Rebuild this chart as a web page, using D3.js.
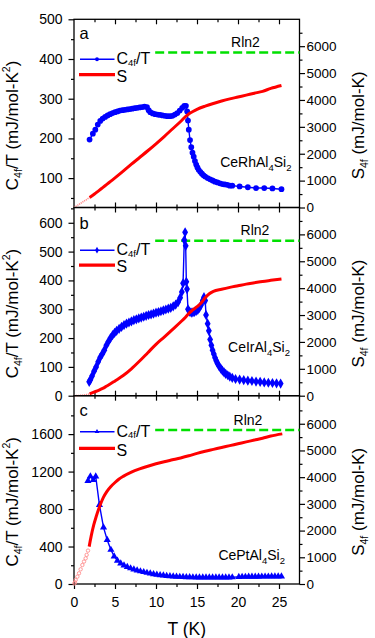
<!DOCTYPE html>
<html>
<head>
<meta charset="utf-8">
<script src="https://cdn.jsdelivr.net/npm/d3@7"></script>
<style>
  body { margin: 0; background: #fff; }
  svg { display: block; font-family: Arial, "Liberation Sans", sans-serif; }
</style>
</head>
<body>
<div id="chart"></div>
<script>
// shared axis values
const xMajor = [0, 5, 10, 15, 20, 25];
const xMinor = [2.5, 7.5, 12.5, 17.5, 22.5];
const sMajor = [0, 1000, 2000, 3000, 4000, 5000, 6000];
const sMinor = [500, 1500, 2500, 3500, 4500, 5500, 6500];
const rln2 = 5763;       // R ln2 in mJ/mol-K
const rln2Start = 9.9;   // where the dashed line begins (K)

// panel a : CeRhAl4Si2
const aLeftMajor = [100, 200, 300, 400, 500];
const aLeftMinor = [50, 150, 250, 350, 450];
const aCT = [
  [1.9, 197], [2.3, 212], [2.6, 222], [2.9, 235], [3.2, 244], [3.5, 250], [3.8, 254], [4.1, 258],
  [4.4, 261], [4.7, 264], [5.0, 266], [5.3, 268], [5.6, 270], [5.9, 271], [6.2, 272], [6.5, 273],
  [6.8, 274], [7.1, 275], [7.4, 276], [7.7, 277], [8.0, 278], [8.3, 279], [8.6, 280], [8.9, 279],
  [9.1, 271], [9.3, 266], [9.6, 263], [9.9, 261], [10.2, 260], [10.5, 259], [10.8, 258], [11.1, 257],
  [11.4, 256], [11.7, 256], [12.0, 257], [12.3, 260], [12.6, 264], [12.9, 270], [13.2, 277],
  [13.45, 282], [13.65, 282], [13.8, 268], [13.9, 245], [14.0, 222], [14.15, 196], [14.3, 178],
  [14.45, 164], [14.6, 154], [14.75, 143], [14.9, 134], [15.05, 127], [15.2, 121], [15.4, 116],
  [15.6, 111], [15.8, 107], [16.0, 104], [16.3, 100], [16.6, 97], [16.9, 94], [17.2, 91], [17.5, 89],
  [17.8, 87], [18.1, 85], [18.4, 84], [18.7, 83], [19.0, 81], [19.3, 81], [20.2, 79], [21.2, 77],
  [22.2, 75], [23.2, 75], [24.2, 74], [25.3, 72]
];
const aS = [
  [1.9, 370], [2.5, 500], [3, 620], [3.5, 740], [4, 860], [4.5, 980], [5, 1100], [6, 1350], [7, 1610],
  [8, 1860], [9, 2110], [10, 2370], [11, 2640], [12, 2920], [13, 3200], [13.6, 3380], [14, 3480],
  [14.5, 3570], [15, 3650], [16, 3770], [17, 3870], [18, 3960], [19, 4040], [20, 4110], [21, 4180],
  [22, 4250], [23, 4320], [24, 4430], [25.3, 4540]
];
const aExt = [[0, 0], [0.5, 95], [1.0, 195], [1.5, 290], [1.9, 370]];

// panel b : CeIrAl4Si2
const bLeftMajor = [0, 100, 200, 300, 400, 500, 600];
const bLeftMinor = [50, 150, 250, 350, 450, 550, 650];
const bCT = [
  [1.85, 48], [2.0, 55], [2.2, 68], [2.45, 85], [2.7, 100], [2.95, 118], [3.2, 133], [3.45, 145],
  [3.7, 158], [3.95, 175], [4.2, 188], [4.45, 200], [4.7, 210], [4.95, 218], [5.2, 225], [5.5, 232],
  [5.8, 239], [6.1, 245], [6.4, 250], [6.7, 254], [7.0, 258], [7.3, 262], [7.6, 265], [7.9, 268],
  [8.2, 271], [8.5, 274], [8.8, 277], [9.1, 280], [9.4, 282], [9.7, 285], [10.0, 288], [10.3, 290],
  [10.6, 293], [10.9, 296], [11.2, 299], [11.5, 302], [11.8, 305], [12.1, 310], [12.4, 316],
  [12.7, 325], [12.95, 340], [13.15, 360], [13.3, 390], [13.45, 540], [13.55, 567], [13.62, 520],
  [13.7, 395], [13.78, 370], [13.9, 300], [14.1, 292], [14.3, 288], [14.5, 289], [14.7, 291],
  [14.9, 294], [15.1, 298], [15.3, 305], [15.5, 315], [15.7, 330], [15.85, 342], [16.0, 330],
  [16.1, 280], [16.3, 250], [16.45, 225], [16.6, 195], [16.75, 175], [16.9, 158], [17.05, 145],
  [17.2, 132], [17.35, 121], [17.5, 112], [17.7, 102], [17.9, 94], [18.1, 87], [18.3, 81], [18.5, 76],
  [18.75, 71], [19.0, 66], [19.3, 62], [19.7, 58], [20.2, 56], [20.7, 54], [21.2, 52], [21.7, 51],
  [22.2, 49], [22.7, 48], [23.2, 46], [23.7, 45], [24.2, 44], [24.7, 43], [25.2, 42]
];
const bS = [
  [1.9, 70], [2.5, 140], [3, 200], [3.5, 270], [4, 360], [4.5, 450], [5, 550], [6, 750], [7, 1000],
  [8, 1290], [9, 1600], [10, 1910], [11, 2180], [12, 2460], [13, 2740], [13.6, 2920], [14, 3060],
  [14.5, 3190], [15, 3310], [15.5, 3450], [16, 3640], [16.5, 3790], [17, 3880], [18, 3960], [19, 4030],
  [20, 4090], [21, 4150], [22, 4200], [23, 4250], [24, 4290], [25.3, 4340]
];
const bExt = [[0, 0], [0.5, 5], [1.0, 18], [1.5, 40], [1.9, 70]];

// panel c : CePtAl4Si2
const cLeftMajor = [0, 400, 800, 1200, 1600];
const cLeftMinor = [200, 600, 1000, 1400, 1800];
const cCT = [
  [1.7, 1100], [2.0, 1150], [2.35, 1110], [2.65, 1148], [3.1, 845], [3.6, 605], [4.05, 470],
  [4.5, 365], [4.9, 295], [5.3, 250], [5.7, 220], [6.1, 198], [6.5, 182], [6.9, 168], [7.3, 156],
  [7.7, 146], [8.1, 136], [8.5, 128], [8.9, 120], [9.3, 113], [9.7, 106], [10.1, 100], [10.5, 95],
  [10.9, 91], [11.3, 87], [11.7, 84], [12.1, 81], [12.5, 79], [12.9, 77], [13.3, 75], [13.7, 74],
  [14.1, 73], [14.5, 72], [14.9, 71], [15.3, 71], [15.7, 70], [16.1, 70], [16.5, 70], [16.9, 70],
  [17.3, 70], [17.7, 70], [18.1, 71], [18.5, 71], [18.9, 71], [19.3, 72], [20.1, 76], [20.5, 77],
  [20.9, 77], [21.3, 78], [21.7, 78], [22.1, 79], [22.5, 79], [22.9, 80], [23.3, 80], [23.7, 80],
  [24.1, 81], [24.5, 81], [24.9, 82], [25.3, 82]
];
const cS = [
  [1.85, 1400], [2.1, 1800], [2.4, 2200], [2.7, 2520], [3.0, 2800], [3.3, 3040], [3.6, 3250],
  [4, 3460], [4.5, 3650], [5, 3800], [5.5, 3930], [6, 4030], [7, 4190], [8, 4310], [9, 4410],
  [10, 4500], [11, 4580], [12, 4650], [13, 4720], [14, 4800], [15, 4890], [16, 4970], [17, 5040],
  [18, 5110], [19, 5180], [20, 5250], [21, 5320], [22, 5390], [23, 5460], [24, 5540], [25.4, 5620]
];
const cExt = [
  [0.05, 20], [0.12, 60], [0.2, 150], [0.41, 275], [0.61, 400], [0.81, 550], [1.02, 710],
  [1.22, 840], [1.42, 960], [1.54, 1090], [1.71, 1250]
];

const width = 375, height = 638;
const X0 = 74, X1 = 299.5;
const blue = '#0000ff', red = '#ff0000', green = '#00e000', pink = '#ff8c8c';

const svg = d3.select('#chart').append('svg')
  .attr('width', width)
  .attr('height', height);

const x = d3.scaleLinear().domain([0, 27.5]).range([X0, X1]);
const fmt = d3.format('d');

// write text with sub/superscripts into a <text>; kinds: '' normal, sub, sup, up (back from sub), down (back from sup)
function richText(sel, parts, big, small, drop) {
  parts.forEach(([str, kind]) => {
    const t = sel.append('tspan').text(str);
    if (kind === 'sub') t.attr('dy', drop).style('font-size', small + 'px');
    else if (kind === 'sup') t.attr('dy', -big * 0.45).style('font-size', small + 'px');
    else if (kind === 'up') t.attr('dy', -drop).style('font-size', big + 'px');
    else if (kind === 'down') t.attr('dy', big * 0.45).style('font-size', big + 'px');
    else t.style('font-size', big + 'px');
  });
}

function drawPanel(p) {
  const g = svg.append('g');
  const yL = d3.scaleLinear().domain(p.leftDomain).range([p.bottom, p.top]);
  const yR = d3.scaleLinear().domain([0, p.rightMax]).range([p.bottom, p.top]);

  // left axis
  const la = g.append('g').attr('transform', `translate(${X0},0)`)
    .call(d3.axisLeft(yL).tickValues(p.leftMajor).tickFormat(fmt).tickSize(5.5).tickPadding(6).tickSizeOuter(0));
  la.append('g').call(d3.axisLeft(yL).tickValues(p.leftMinor).tickSize(3).tickFormat('').tickSizeOuter(0));
  // right axis
  const ra = g.append('g').attr('transform', `translate(${X1},0)`)
    .call(d3.axisRight(yR).tickValues(sMajor).tickFormat(fmt).tickSize(5.5).tickPadding(1.5).tickSizeOuter(0));
  ra.append('g').call(d3.axisRight(yR).tickValues(sMinor).tickSize(3).tickFormat('').tickSizeOuter(0));
  // top axis, ticks inward
  const ta = g.append('g').attr('transform', `translate(0,${p.top})`)
    .call(d3.axisBottom(x).tickValues(xMajor.slice(1)).tickSize(5).tickFormat('').tickSizeOuter(0));
  ta.append('g').call(d3.axisBottom(x).tickValues(xMinor).tickSize(3).tickFormat('').tickSizeOuter(0));
  // bottom axis
  let ba;
  if (p.labelsX) {
    ba = g.append('g').attr('transform', `translate(0,${p.bottom})`)
      .call(d3.axisBottom(x).tickValues(xMajor).tickFormat(fmt).tickSize(5).tickPadding(8).tickSizeOuter(0));
    ba.append('g').call(d3.axisBottom(x).tickValues(xMinor).tickSize(3).tickFormat('').tickSizeOuter(0));
  } else {
    ba = g.append('g').attr('transform', `translate(0,${p.bottom})`)
      .call(d3.axisTop(x).tickValues(xMajor.slice(1)).tickSize(5).tickFormat('').tickSizeOuter(0));
    ba.append('g').call(d3.axisTop(x).tickValues(xMinor).tickSize(3).tickFormat('').tickSizeOuter(0));
  }
  [la, ra, ta, ba].forEach(a => {
    a.attr('font-family', null).attr('font-size', null);
    a.selectAll('.domain').remove();
    a.selectAll('line').attr('stroke', '#000').attr('stroke-width', 1.2);
    a.selectAll('text').attr('fill', '#000').style('font-size', '14px');
  });
  ra.selectAll('text').style('font-size', '13.5px');

  // frame
  g.append('rect')
    .attr('x', X0).attr('y', p.top)
    .attr('width', X1 - X0).attr('height', p.bottom - p.top)
    .attr('fill', 'none').attr('stroke', '#000').attr('stroke-width', 1.3);

  // Rln2 dashed line
  g.append('line')
    .attr('x1', x(rln2Start)).attr('x2', X1)
    .attr('y1', yR(rln2)).attr('y2', yR(rln2))
    .attr('stroke', green).attr('stroke-width', 2.5)
    .attr('stroke-dasharray', '9,4');
  g.append('text')
    .attr('x', p.rlnX).attr('y', p.rlnY)
    .attr('text-anchor', 'middle')
    .style('font-size', '14px')
    .text('Rln2');

  // extrapolated entropy below the lowest temperature
  if (p.extDots) {
    g.selectAll('circle.ext').data(p.ext).join('circle')
      .attr('class', 'ext')
      .attr('cx', d => x(d[0])).attr('cy', d => yR(d[1]))
      .attr('r', 1.7)
      .attr('fill', 'none').attr('stroke', pink).attr('stroke-width', 0.9);
  } else {
    g.append('path')
      .datum(p.ext)
      .attr('fill', 'none').attr('stroke', pink).attr('stroke-width', 1.6)
      .attr('stroke-dasharray', '1.2,0.8')
      .attr('d', d3.line().x(d => x(d[0])).y(d => yR(d[1])));
  }

  // C4f/T : line + markers
  const clip = 'clip' + p.letter;
  g.append('clipPath').attr('id', clip).append('rect')
    .attr('x', X0).attr('y', p.top).attr('width', X1 - X0).attr('height', p.bottom - p.top);
  const data = g.append('g').attr('clip-path', `url(#${clip})`);
  data.append('path')
    .datum(p.ct)
    .attr('fill', 'none').attr('stroke', blue).attr('stroke-width', 1.4)
    .attr('d', d3.line().x(d => x(d[0])).y(d => yL(d[1])));
  const sym = d3.symbol().type(p.symbol).size(p.symSize);
  data.selectAll('path.pt').data(p.ct).join('path')
    .attr('class', 'pt')
    .attr('transform', d => `translate(${x(d[0])},${yL(d[1])})`)
    .attr('d', sym)
    .attr('fill', blue);

  // entropy
  data.append('path')
    .datum(p.s)
    .attr('fill', 'none').attr('stroke', red).attr('stroke-width', 3)
    .attr('stroke-linejoin', 'round')
    .attr('d', d3.line().curve(d3.curveMonotoneX).x(d => x(d[0])).y(d => yR(d[1])));

  // panel letter
  g.append('text')
    .attr('x', 79.5).attr('y', p.top + p.letterDy)
    .style('font-size', '16.5px')
    .text(p.letter);

  // legend
  const ly1 = p.top + p.legDy1, ly2 = p.top + p.legDy2;
  g.append('line').attr('x1', 80).attr('x2', 114.5).attr('y1', ly1).attr('y2', ly1)
    .attr('stroke', blue).attr('stroke-width', 1.4);
  g.append('path')
    .attr('transform', `translate(97,${ly1})`)
    .attr('d', d3.symbol().type(p.symbol).size(p.symSize * 0.45))
    .attr('fill', blue);
  g.append('line').attr('x1', 79).attr('x2', 115).attr('y1', ly2).attr('y2', ly2)
    .attr('stroke', red).attr('stroke-width', 3.2);
  const lt1 = g.append('text').attr('x', 116.5).attr('y', ly1 + 5);
  richText(lt1, [['C', ''], ['4f', 'sub'], ['/T', 'up']], 16, 9.5, 1.5);
  g.append('text').attr('x', 116.5).attr('y', ly2 + 7.2)
    .style('font-size', '16px').text('S');

  // sample name
  const nt = g.append('text')
    .attr('x', p.nameX).attr('y', p.nameY)
    .attr('text-anchor', 'end');
  richText(nt, [[p.name[0], ''], [p.name[1], 'sub'], [p.name[2], 'up'], [p.name[3], 'sub']], 14, 9.5, 4);

  // axis titles
  const cy = (p.top + p.bottom) / 2;
  const lt = g.append('text')
    .attr('transform', `translate(17.5,${cy + 12}) rotate(-90)`)
    .attr('text-anchor', 'middle');
  richText(lt, [['C', ''], ['4f', 'sub'], ['/T (mJ/mol-K', 'up'], ['2', 'sup'], [')', 'down']], 17, 10.5, 4);
  const rt = g.append('text')
    .attr('transform', `translate(364,${cy + 12}) rotate(-90)`)
    .attr('text-anchor', 'middle');
  richText(rt, [['S', ''], ['4f', 'sub'], [' (mJ/mol-K)', 'up']], 17, 10.5, 4);
}

drawPanel({
  letter: 'a', top: 19.3, bottom: 207.5, leftDomain: [26, 500], rightMax: 7000,
  leftMajor: aLeftMajor, leftMinor: aLeftMinor, ct: aCT, s: aS, ext: aExt, extDots: false,
  symbol: d3.symbolCircle, symSize: 26, name: ['CeRhAl', '4', 'Si', '2'],
  nameX: 291.5, nameY: 166.7, rlnX: 245.5, rlnY: 46.7, letterDy: 20,
  legDy1: 40, legDy2: 55.4, labelsX: false
});
drawPanel({
  letter: 'b', top: 207.5, bottom: 395.7, leftDomain: [0, 653], rightMax: 7000,
  leftMajor: bLeftMajor, leftMinor: bLeftMinor, ct: bCT, s: bS, ext: bExt, extDots: false,
  symbol: d3.symbolDiamond, symSize: 30, name: ['CeIrAl', '4', 'Si', '2'],
  nameX: 290, nameY: 351.7, rlnX: 255, rlnY: 235, letterDy: 21,
  legDy1: 42.7, legDy2: 57.7, labelsX: false
});
drawPanel({
  letter: 'c', top: 395.7, bottom: 584, leftDomain: [0, 2010], rightMax: 7050,
  leftMajor: cLeftMajor, leftMinor: cLeftMinor, ct: cCT, s: cS, ext: cExt, extDots: true,
  symbol: d3.symbolTriangle, symSize: 22, name: ['CePtAl', '4', 'Si', '2'],
  nameX: 285, nameY: 560, rlnX: 248, rlnY: 425, letterDy: 20.3,
  legDy1: 36, legDy2: 52.6, labelsX: true
});

// x axis title
svg.append('text')
  .attr('x', (X0 + X1) / 2).attr('y', 634.5)
  .attr('text-anchor', 'middle')
  .style('font-size', '17.5px')
  .text('T (K)');
</script>
</body>
</html>
